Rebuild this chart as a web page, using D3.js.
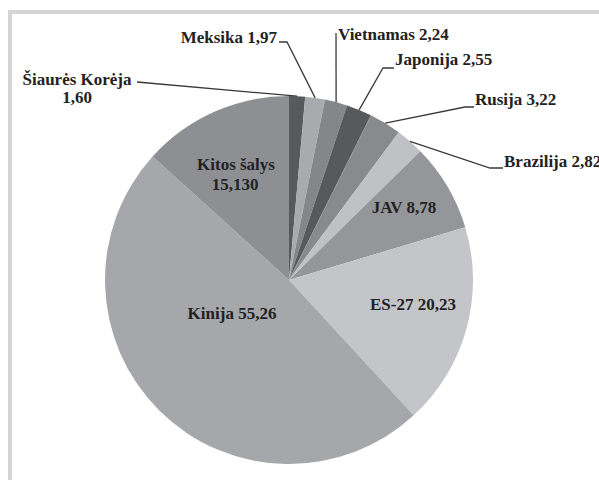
<html>
<head>
<meta charset="UTF-8">
<title>Pie</title>
<script src="https://d3js.org/d3.v7.min.js"></script>
<style>
  body { margin: 0; background: #fff; }
</style>
</head>
<body>
<svg width="599" height="480"></svg>
<script>
// slices clockwise from 12 o'clock
const countries = ["Šiaurės Korėja", "Meksika", "Vietnamas", "Japonija", "Rusija",
                   "Brazilija", "JAV", "ES-27", "Kinija", "Kitos šalys"];
const values = [1.60, 1.97, 2.24, 2.55, 3.22, 2.82, 8.78, 20.23, 55.26, 15.130];
const valueLabels = ["1,60", "1,97", "2,24", "2,55", "3,22", "2,82", "8,78", "20,23", "55,26", "15,130"];

const colors = ["#58595b", "#a9aaad", "#858689", "#58595b", "#898a8d",
                "#c0c1c4", "#95969a", "#c4c5c8", "#a6a7aa", "#8e8f92"];

const svg = d3.select("svg");
const cx = 289, cy = 280, r = 184;

// frame
svg.append("path")
    .attr("d", "M10,482 V12 H601")
    .attr("fill", "none")
    .attr("stroke", "#d5d5d5")
    .attr("stroke-width", 4);

const g = svg.append("g").attr("transform", `translate(${cx},${cy})`);

const pie = d3.pie().sort(null).value(d => d)(values);
const arc = d3.arc().innerRadius(0).outerRadius(r);
const edge = d3.arc().innerRadius(r).outerRadius(r);

g.selectAll("path.slice")
  .data(pie)
  .join("path")
    .attr("class", "slice")
    .attr("d", arc)
    .attr("fill", (d, i) => colors[i]);

// outside labels: text position and elbow, relative to centre
const outside = {
  "Šiaurės Korėja": {lines: [[-212, -195, "middle"], [-212, -177, "middle"]], elbow: [-152, -198], split: true},
  "Meksika":   {lines: [[-12, -237, "end"]], elbow: [-2, -238], pre: [-10, -238]},
  "Vietnamas": {lines: [[49, -240, "start"]], elbow: [47, -247]},
  "Japonija":  {lines: [[106, -215, "start"]], elbow: [94, -212], pre: [105, -212]},
  "Rusija":    {lines: [[186, -175, "start"]], elbow: [176, -173], pre: [185, -173]},
  "Brazilija": {lines: [[215, -113, "start"]], elbow: [201, -112], pre: [214, -112]}
};
// inside labels
const inside = {
  "JAV":   [[115, -67]],
  "ES-27": [[124, 30]],
  "Kinija": [[-57, 39]],
  "Kitos šalys": [[-53, -110], [-54, -90]]
};

function label(x, y, anchor, txt) {
  g.append("text")
    .attr("x", x).attr("y", y)
    .attr("text-anchor", anchor)
    .style("font-family", "'Liberation Serif', Tinos, serif")
    .style("font-weight", "bold")
    .style("font-size", "17px")
    .attr("fill", "#222")
    .text(txt);
}

pie.forEach((d, i) => {
  const name = countries[i];
  if (outside[name]) {
    const o = outside[name];
    const p = edge.centroid(d);
    const pts = [p, o.elbow];
    if (o.pre) pts.push(o.pre);
    g.append("path")
      .attr("d", d3.line()(pts.reverse()))
      .attr("fill", "none")
      .attr("stroke", "#3a3a3a")
      .attr("stroke-width", 1.3);
    const texts = o.split ? [name, valueLabels[i]] : [name + " " + valueLabels[i]];
    o.lines.forEach((l, k) => label(l[0], l[1], l[2], texts[k]));
  } else {
    const pos = inside[name];
    const texts = pos.length > 1 ? [name, valueLabels[i]] : [name + " " + valueLabels[i]];
    pos.forEach((l, k) => label(l[0], l[1], "middle", texts[k]));
  }
});
</script>
</body>
</html>
